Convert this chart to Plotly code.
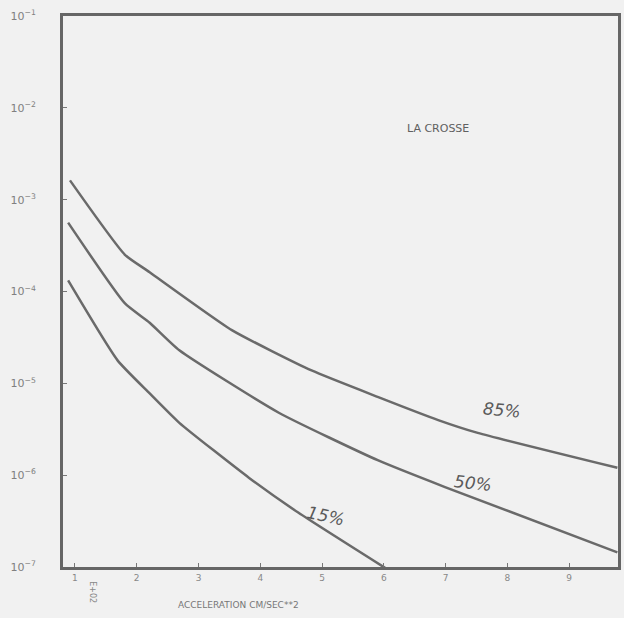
import plotly.graph_objects as go

# (x in units of 1E+02 cm/sec**2, y = annual exceedance probability)
x85 = [0.92, 1.81, 2.21, 3.54, 4.83, 5.91, 6.88, 7.52, 9.78]
y85 = [10**v for v in [-2.79, -3.60, -3.79, -4.42, -4.86, -5.15, -5.40, -5.54, -5.92]]
x50 = [0.89, 1.81, 2.21, 2.69, 4.30, 5.91, 6.99, 9.78]
y50 = [10**v for v in [-3.25, -4.13, -4.34, -4.64, -5.32, -5.84, -6.13, -6.84]]
x15 = [0.89, 1.69, 2.21, 2.69, 3.82, 4.62, 6.02]
y15 = [10**v for v in [-3.88, -4.75, -5.11, -5.43, -6.03, -6.41, -7.01]]

xticks = [1, 2, 3, 4, 5, 6, 7, 8, 9]
yticks = [1e-7, 1e-6, 1e-5, 1e-4, 1e-3, 1e-2, 1e-1]
ytext = ["10<sup>−7</sup>", "10<sup>−6</sup>", "10<sup>−5</sup>", "10<sup>−4</sup>",
         "10<sup>−3</sup>", "10<sup>−2</sup>", "10<sup>−1</sup>"]

line_col = "#6a6a6a"
fig = go.Figure()
for xs, ys in [(x85, y85), (x50, y50), (x15, y15)]:
    fig.add_trace(go.Scatter(x=xs, y=ys, mode="lines",
                             line=dict(color=line_col, width=2.5, shape="spline", smoothing=0.5),
                             showlegend=False, hoverinfo="skip"))

fig.update_layout(
    width=624, height=618,
    margin=dict(l=63, r=3, t=16, b=51),
    paper_bgcolor="#f1f1f1", plot_bgcolor="#f1f1f1",
    font=dict(family="DejaVu Sans", color="#777777"),
    xaxis=dict(range=[0.807, 9.79], tickvals=xticks, ticktext=[str(v) for v in xticks],
               showgrid=False, zeroline=False, showline=True, mirror=True,
               linecolor="#666666", linewidth=3, ticks="inside", ticklen=4,
               tickcolor="#777777", tickfont=dict(size=9, color="#888888")),
    yaxis=dict(type="log", range=[-7, -1], tickvals=yticks, ticktext=ytext,
               showgrid=False, zeroline=False, showline=True, mirror=True,
               linecolor="#666666", linewidth=3, ticks="inside", ticklen=4,
               tickcolor="#777777", tickfont=dict(size=11, color="#808080"),
               ticklabelstandoff=22),
)

hand = dict(family="DejaVu Sans", size=17, color="#5a5a5a")
fig.add_annotation(x=7.92, y=-5.29, text="<i>85%</i>", showarrow=False, font=hand, textangle=5)
fig.add_annotation(x=7.44, y=-6.08, text="<i>50%</i>", showarrow=False, font=hand, textangle=6)
fig.add_annotation(x=5.07, y=-6.44, text="<i>15%</i>", showarrow=False, font=hand, textangle=12)
fig.add_annotation(x=6.88, y=-2.22, text="LA CROSSE", showarrow=False,
                   font=dict(family="DejaVu Sans", size=11, color="#606060"))
fig.add_annotation(x=1.29, xref="x", y=0, yref="paper", yanchor="top", yshift=-12,
                   text="E+02", textangle=90, showarrow=False,
                   font=dict(size=8, color="#888888"))
fig.add_annotation(x=3.65, xref="x", y=0, yref="paper", yanchor="top", yshift=-31,
                   text="ACCELERATION CM/SEC**2", showarrow=False,
                   font=dict(size=9, color="#777777"))

fig.write_html("out.html")
